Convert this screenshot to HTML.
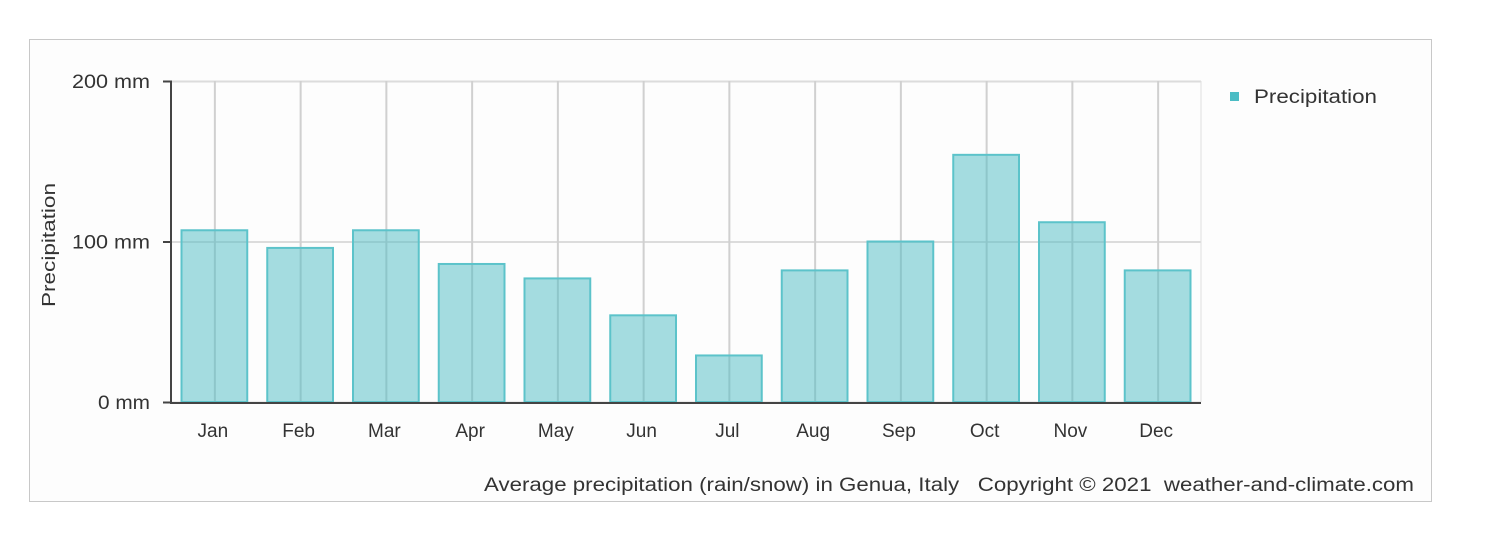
<!DOCTYPE html>
<html><head><meta charset="utf-8"><style>
body{margin:0;background:#fff;width:1500px;height:550px;overflow:hidden;font-family:"Liberation Sans",sans-serif}
</style></head><body>
<svg width="1500" height="550" xmlns="http://www.w3.org/2000/svg">
<rect x="29.5" y="39.5" width="1402" height="462" fill="#fdfdfd" stroke="#c8c8c8"/>
<g id="grid"></g><g id="bars"></g><g id="axes"></g>
<text x="55" y="245" transform="rotate(-90 55 245)" font-size="18" fill="#333" text-anchor="middle" textLength="124" lengthAdjust="spacingAndGlyphs">Precipitation</text>
<rect x="1230" y="92" width="9" height="9" fill="#4bbcc4"/>
<text x="1254" y="103" font-size="19" fill="#333" textLength="123" lengthAdjust="spacingAndGlyphs">Precipitation</text>
<text x="484" y="491" font-size="19" fill="#333" textLength="930" lengthAdjust="spacingAndGlyphs">Average precipitation (rain/snow) in Genua, Italy &#160; Copyright © 2021 &#160;weather-and-climate.com</text>
</svg>
<script>
const categories=["Jan","Feb","Mar","Apr","May","Jun","Jul","Aug","Sep","Oct","Nov","Dec"];
const precipitation=[107,96,107,86,77,54,29,82,100,154,112,82];
const yTicks=[0,100,200];
const yTickLabels=["0 mm","100 mm","200 mm"];
const NS="http://www.w3.org/2000/svg";
const X0=172,X1=1201,Y0=402,Y1=81,YMAX=200;
const bw=(X1-X0)/categories.length;
const y=v=>Y0-(v/YMAX)*(Y0-Y1);
const x=i=>X0+bw*i;
function mk(t,a,p){const e=document.createElementNS(NS,t);for(const k in a)e.setAttribute(k,a[k]);p.appendChild(e);return e;}
const g=document.getElementById('grid'),b=document.getElementById('bars'),ax=document.getElementById('axes');
yTicks.forEach((v,i)=>{
 const l=mk('line',{x1:X0,x2:X1,y1:y(v)+0.5,y2:y(v)+0.5,stroke:'#dcdcdc','stroke-width':2},g);
 
 
 const tk=mk('line',{x1:X0-9,x2:X0,y1:y(v)+0.5,y2:y(v)+0.5,stroke:'#444','stroke-width':2},ax);
 
 
 const t=mk('text',{x:X0-22,y:y(v)+7,'font-size':19,fill:'#333','text-anchor':'end',textLength:yTickLabels[i].length*13,lengthAdjust:'spacingAndGlyphs'},ax);
 t.textContent=yTickLabels[i];
 
 
});
mk('line',{x1:X1,x2:X1,y1:Y1,y2:Y0,stroke:'#e0e0e0','stroke-width':1},g);
categories.forEach((c,i)=>{
 const cx=x(i)+bw/2;
 const l=mk('line',{x1:cx,x2:cx,y1:Y1,y2:Y0,stroke:'#d0d0d0','stroke-width':2},g);
 
 
 const r=mk('rect',{x:x(i)+9.5,y:y(precipitation[i]),width:bw-20,height:Y0-y(precipitation[i]),fill:'rgba(75,188,196,0.5)',stroke:'#5cc3ca','stroke-width':2},b);
 
 
 const t=mk('text',{x:cx-2,y:437,'font-size':19,fill:'#333','text-anchor':'middle'},ax);
 t.textContent=c;
 
 
});
const xa=mk('line',{x1:X0,x2:X1,y1:Y0+1,y2:Y0+1,stroke:'#444','stroke-width':2},ax);


const ya=mk('line',{x1:X0-1,x2:X0-1,y1:Y1,y2:Y0+2,stroke:'#444','stroke-width':2},ax);


</script>
</body></html>
